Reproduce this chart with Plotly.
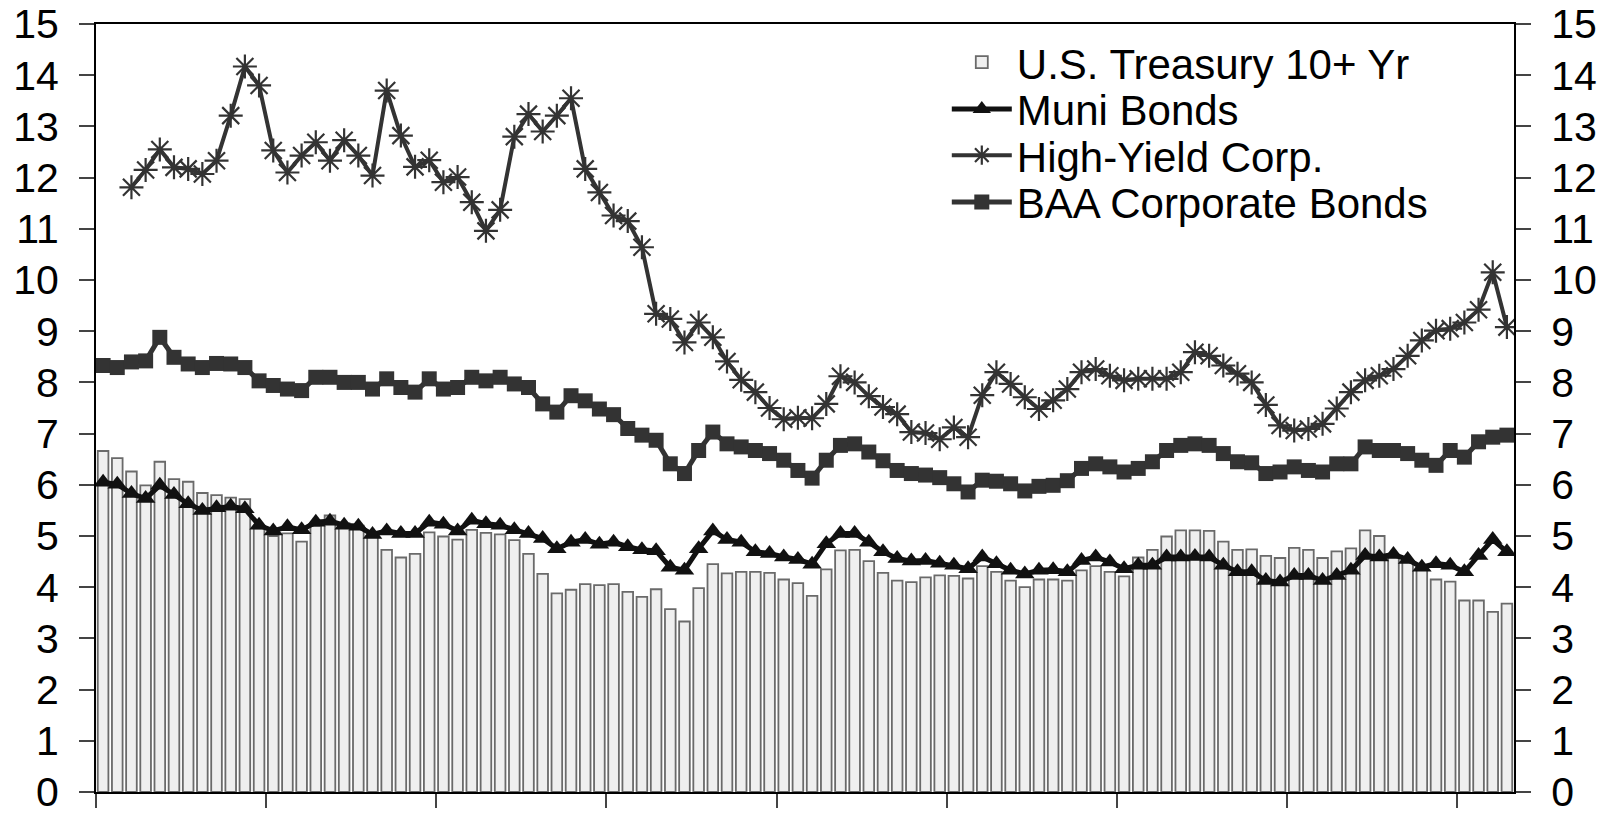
import plotly.graph_objects as go

# monthly observations, 100 periods; x-axis ticks every 12 months (no labels)
months = list(range(100))
year_ticks = [m - 0.5 for m in range(0, 100, 12)]
y_ticks = list(range(0, 16))

treasury = [
    6.66, 6.52, 6.26, 5.99, 6.45, 6.11, 6.06, 5.84, 5.80, 5.75,
    5.72, 5.15, 5.00, 5.05, 4.89, 5.20, 5.40, 5.25, 5.20, 5.00,
    4.73, 4.58, 4.65, 5.07, 4.99, 4.93, 5.12, 5.06, 5.03, 4.92,
    4.65, 4.26, 3.88, 3.95, 4.06, 4.04, 4.06, 3.91, 3.81, 3.96,
    3.57, 3.33, 3.98, 4.45, 4.27, 4.30, 4.30, 4.28, 4.15, 4.08,
    3.83, 4.35, 4.72, 4.73, 4.51, 4.28, 4.13, 4.10, 4.19, 4.23,
    4.22, 4.17, 4.41, 4.30, 4.13, 4.00, 4.15, 4.15, 4.13, 4.33,
    4.41, 4.30, 4.21, 4.58, 4.73, 4.99, 5.11, 5.11, 5.10, 4.89,
    4.73, 4.74, 4.61, 4.57, 4.77, 4.73, 4.57, 4.70, 4.76, 5.11,
    5.00, 4.60, 4.50, 4.40, 4.15, 4.11, 3.74, 3.74, 3.52, 3.68,
]

muni = [
    6.05, 6.01, 5.83, 5.73, 5.99, 5.81, 5.63, 5.50, 5.55, 5.58,
    5.53, 5.21, 5.10, 5.18, 5.12, 5.27, 5.29, 5.21, 5.19, 5.03,
    5.10, 5.05, 5.05, 5.27, 5.23, 5.10, 5.31, 5.24, 5.21, 5.12,
    5.05, 4.95, 4.75, 4.88, 4.93, 4.84, 4.88, 4.79, 4.73, 4.71,
    4.39, 4.33, 4.75, 5.10, 4.93, 4.88, 4.69, 4.66, 4.59, 4.54,
    4.45, 4.85, 5.05, 5.05, 4.88, 4.69, 4.56, 4.51, 4.52, 4.47,
    4.43, 4.36, 4.59, 4.46, 4.33, 4.26, 4.33, 4.34, 4.30, 4.52,
    4.59, 4.49, 4.36, 4.43, 4.43, 4.59, 4.59, 4.60, 4.59, 4.43,
    4.30, 4.30, 4.13, 4.10, 4.23, 4.23, 4.13, 4.23, 4.33, 4.62,
    4.59, 4.64, 4.54, 4.39, 4.46, 4.43, 4.30, 4.62, 4.93, 4.69,
]

high_yield = [
    None, None, 11.81, 12.15, 12.55, 12.20, 12.17, 12.07, 12.33, 13.21,
    14.17, 13.80, 12.53, 12.10, 12.43, 12.69, 12.33, 12.73, 12.43, 12.04,
    13.70, 12.82, 12.21, 12.34, 11.91, 12.01, 11.52, 10.96, 11.37, 12.80,
    13.24, 12.90, 13.21, 13.55, 12.17, 11.71, 11.26, 11.15, 10.64, 9.34,
    9.24, 8.78, 9.17, 8.88, 8.41, 8.05, 7.81, 7.50, 7.28, 7.31,
    7.30, 7.58, 8.12, 8.00, 7.73, 7.52, 7.38, 7.03, 7.01, 6.89,
    7.12, 6.93, 7.75, 8.20, 7.97, 7.71, 7.48, 7.65, 7.87, 8.20,
    8.26, 8.13, 8.04, 8.07, 8.07, 8.07, 8.20, 8.59, 8.52, 8.33,
    8.17, 8.00, 7.56, 7.16, 7.06, 7.09, 7.19, 7.49, 7.81, 8.04,
    8.13, 8.26, 8.52, 8.82, 9.01, 9.05, 9.17, 9.42, 10.15, 9.08,
]

baa = [
    8.33, 8.29, 8.40, 8.42, 8.88, 8.49, 8.36, 8.29, 8.37, 8.36,
    8.29, 8.03, 7.94, 7.87, 7.84, 8.10, 8.10, 8.00, 8.00, 7.87,
    8.07, 7.90, 7.81, 8.07, 7.87, 7.90, 8.10, 8.03, 8.10, 7.97,
    7.90, 7.58, 7.42, 7.74, 7.64, 7.48, 7.37, 7.10, 6.97, 6.87,
    6.41, 6.22, 6.67, 7.03, 6.80, 6.74, 6.67, 6.61, 6.48, 6.28,
    6.13, 6.48, 6.77, 6.80, 6.64, 6.47, 6.28, 6.22, 6.19, 6.14,
    6.02, 5.86, 6.09, 6.07, 6.02, 5.88, 5.97, 5.99, 6.08, 6.32,
    6.41, 6.35, 6.25, 6.32, 6.45, 6.67, 6.77, 6.80, 6.77, 6.61,
    6.45, 6.43, 6.22, 6.25, 6.35, 6.28, 6.25, 6.41, 6.41, 6.74,
    6.67, 6.67, 6.61, 6.48, 6.38, 6.67, 6.54, 6.84, 6.93, 6.97,
]

FONT = "Liberation Sans, Arial, sans-serif"

fig = go.Figure()
fig.add_trace(
    go.Bar(
        name="U.S. Treasury 10+ Yr",
        x=months,
        y=treasury,
        marker=dict(color="#efefef", line=dict(color="#6a6a6a", width=1.8)),
        legend="legend",
    )
)
fig.add_trace(
    go.Scatter(
        name="Muni Bonds",
        x=months,
        y=muni,
        mode="lines+markers",
        line=dict(color="#111111", width=5),
        marker=dict(symbol="triangle-up", size=17, color="#111111"),
        legend="legend2",
    )
)
fig.add_trace(
    go.Scatter(
        name="High-Yield Corp.",
        x=months,
        y=high_yield,
        mode="lines+markers",
        line=dict(color="#333333", width=4),
        marker=dict(
            symbol="asterisk-open",
            size=20,
            color="#333333",
            line=dict(color="#333333", width=2.2),
        ),
        legend="legend3",
    )
)
# BAA sits on the right-hand axis (same 0-15 scale) so that axis is drawn
fig.add_trace(
    go.Scatter(
        name="BAA Corporate Bonds",
        x=months,
        y=baa,
        yaxis="y2",
        mode="lines+markers",
        line=dict(color="#333333", width=5),
        marker=dict(symbol="square", size=15, color="#333333"),
        legend="legend4",
    )
)

axis_common = dict(
    range=[0, 15],
    tickvals=y_ticks,
    ticks="outside",
    ticklen=15,
    tickwidth=1.5,
    tickcolor="#444444",
    showgrid=False,
    zeroline=False,
    showline=True,
    linecolor="black",
    linewidth=2,
    tickfont=dict(family=FONT, size=41, color="black"),
    ticklabelstandoff=12,
    ticklabeloverflow="allow",
    automargin=False,
)

legend_common = dict(
    x=0.600,
    xanchor="left",
    yanchor="middle",
    font=dict(family=FONT, size=42, color="black"),
    bgcolor="rgba(0,0,0,0)",
    itemwidth=60,
)

# the page body keeps its default 8px margin, so the figure is 8px smaller
fig.update_layout(
    width=1605,
    height=806,
    margin=dict(l=88, r=99, t=16, b=22),
    paper_bgcolor="white",
    plot_bgcolor="white",
    bargap=0.25,
    showlegend=True,
    legend=dict(**legend_common, y=0.950),
    legend2=dict(**legend_common, y=0.889),
    legend3=dict(**legend_common, y=0.829),
    legend4=dict(**legend_common, y=0.768),
    xaxis=dict(
        range=[-0.5, 99.5],
        tickvals=year_ticks,
        ticks="outside",
        ticklen=14,
        tickwidth=1.5,
        tickcolor="#444444",
        showticklabels=False,
        showgrid=False,
        zeroline=False,
        showline=True,
        linecolor="black",
        linewidth=2,
        mirror=True,
        automargin=False,
    ),
    yaxis=dict(**axis_common),
    yaxis2=dict(**axis_common, overlaying="y", side="right", anchor="x"),
)

fig.write_html("out.html")
